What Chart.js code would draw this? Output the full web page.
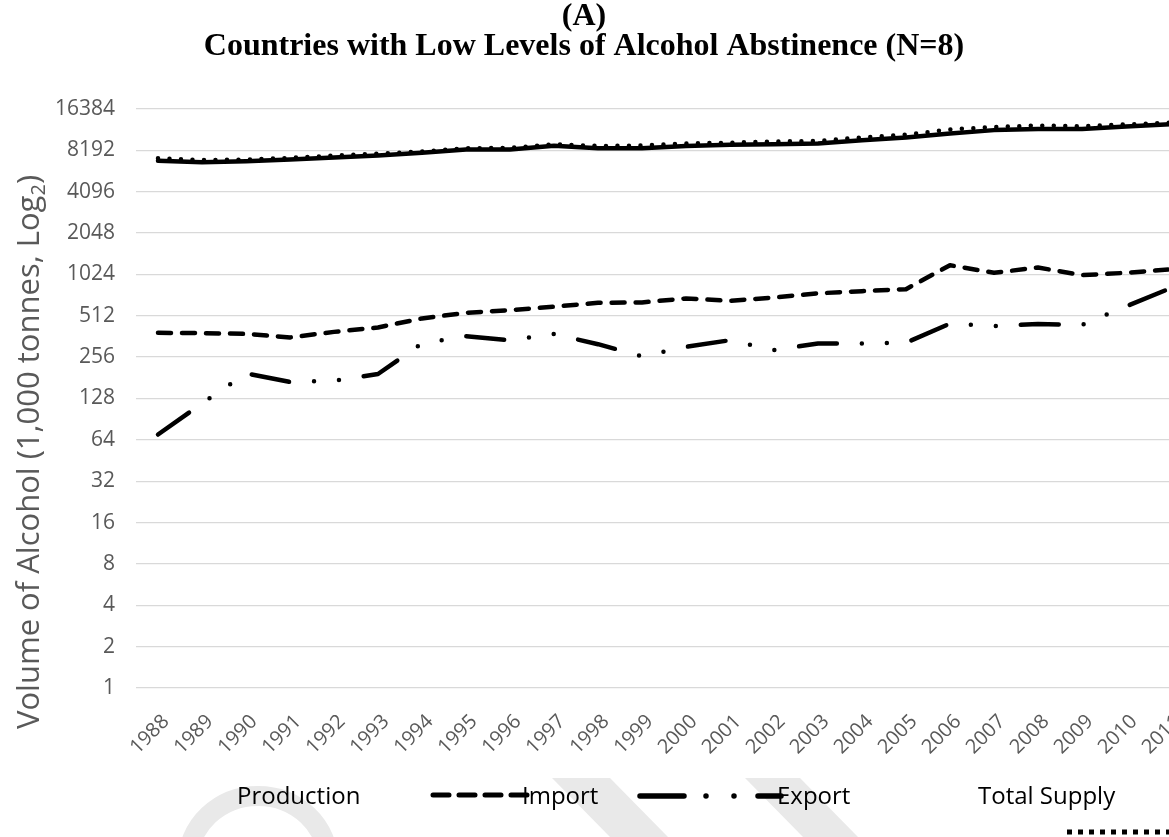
<!DOCTYPE html>
<html>
<head>
<meta charset="utf-8">
<title>Alcohol supply, low abstinence countries</title>
<script src="https://cdn.jsdelivr.net/npm/chart.js@4.4.1/dist/chart.umd.min.js"></script>
<style>
  html, body { margin: 0; padding: 0; background: #fff; overflow: hidden; }
  #wrap { position: relative; width: 1169px; height: 837px; overflow: hidden; }
  #supplyChart { position: absolute; left: 0; top: 0; }
</style>
</head>
<body>
<div id="wrap"><canvas id="supplyChart" width="1230" height="837"></canvas></div>
<script>
const years = ['1988', '1989', '1990', '1991', '1992', '1993', '1994', '1995', '1996', '1997', '1998', '1999',
               '2000', '2001', '2002', '2003', '2004', '2005', '2006', '2007', '2008', '2009', '2010', '2011'];

const yTickValues = [1, 2, 4, 8, 16, 32, 64, 128, 256, 512, 1024, 2048, 4096, 8192, 16384];

// volumes in 1,000 tonnes of pure alcohol
const production = [6870, 6700, 6830, 7030, 7280, 7510, 7860, 8310, 8310, 8850, 8500, 8500,
                    8800, 8990, 9080, 9180, 9720, 10170, 10860, 11500, 11700, 11700, 12200, 12700];
const imports = [385, 383, 378, 356, 391, 421, 490, 538, 563, 596, 636, 640,
                 685, 658, 696, 746, 774, 800, 1195, 1052, 1150, 1012, 1052, 1113];
const exports = [70, 118, 195, 169, 172, 193, 322, 364, 340, 377, 318, 260,
                 304, 340, 288, 322, 322, 326, 449, 431, 446, 440, 600, 810];
const totalSupply = [7185, 6965, 7010, 7215, 7500, 7740, 8030, 8480, 8530, 9070, 8820, 8880,
                     9180, 9310, 9490, 9600, 10170, 10640, 11610, 12120, 12400, 12270, 12650, 13000];

const GREY = '#595959';
const SANS = '"Open Sans", "DejaVu Sans", sans-serif';

const lineBase = {
  borderColor: '#000',
  backgroundColor: '#000',
  borderWidth: 4.5,
  pointRadius: 0,
  pointHoverRadius: 0,
  tension: 0,
  fill: false,
  borderJoinStyle: 'round',
  borderCapStyle: 'round'
};

// faint background stamp along the bottom edge
const stamp = {
  id: 'stamp',
  beforeDraw(chart) {
    const ctx = chart.ctx;
    ctx.save();
    ctx.fillStyle = '#e9e9e9';
    ctx.strokeStyle = '#e9e9e9';
    ctx.lineWidth = 20;
    ctx.beginPath();
    ctx.ellipse(258, 862, 70, 66, 0, Math.PI, 2 * Math.PI);
    ctx.stroke();
    const band = (pts) => {
      ctx.beginPath();
      ctx.moveTo(pts[0], pts[1]);
      for (let i = 2; i < pts.length; i += 2) ctx.lineTo(pts[i], pts[i + 1]);
      ctx.closePath();
      ctx.fill();
    };
    band([552, 778, 610, 778, 668, 837, 610, 837]);
    band([745, 778, 800, 778, 858, 837, 803, 837]);
    ctx.restore();
  }
};

// title, y axis title and the hand placed legend
const chartText = {
  id: 'chartText',
  afterDraw(chart) {
    const ctx = chart.ctx;
    ctx.save();

    ctx.fillStyle = '#000';
    ctx.textAlign = 'center';
    ctx.textBaseline = 'middle';
    ctx.font = 'bold 32px "Liberation Serif", serif';
    ctx.fillText('(A)', 584, 17);
    ctx.fillText('Countries with Low Levels of Alcohol Abstinence (N=8)', 584, 47);

    // rotated axis title with a subscript 2
    ctx.save();
    ctx.translate(30, 452);
    ctx.rotate(-Math.PI / 2);
    ctx.fillStyle = GREY;
    ctx.textAlign = 'left';
    const main = 'Volume of Alcohol (1,000 tonnes, Log';
    ctx.font = '31px ' + SANS;
    const w1 = ctx.measureText(main).width;
    const w3 = ctx.measureText(')').width;
    ctx.font = '20px ' + SANS;
    const w2 = ctx.measureText('2').width;
    let x = -(w1 + w2 + w3) / 2;
    ctx.font = '31px ' + SANS;
    ctx.fillText(main, x, 0);
    x += w1;
    ctx.font = '20px ' + SANS;
    ctx.fillText('2', x, 9);
    x += w2;
    ctx.font = '31px ' + SANS;
    ctx.fillText(')', x, 0);
    ctx.restore();

    // legend samples
    const sets = chart.data.datasets;
    const sample = (ds, x1, x2, y, cap, dash, width) => {
      ctx.save();
      ctx.strokeStyle = ds.borderColor;
      ctx.lineWidth = width || ds.borderWidth;
      ctx.lineCap = cap;
      ctx.setLineDash(dash || ds.borderDash || []);
      ctx.beginPath();
      ctx.moveTo(x1, y);
      ctx.lineTo(x2, y);
      ctx.stroke();
      ctx.restore();
    };
    sample(sets[1], 433, 532, 795, 'round', [16, 10], 5);
    sample(sets[2], 640, 781, 796, 'round', [44, 22, 0, 28, 0, 24, 40], 5.5);
    sample(sets[3], 1067, 1175, 832, 'butt', [5, 6], 5);

    ctx.fillStyle = '#000';
    ctx.textAlign = 'left';
    ctx.textBaseline = 'middle';
    ctx.font = '24px ' + SANS;
    ctx.fillText(sets[0].label, 237, 797);
    ctx.fillText(sets[1].label, 522, 797);
    ctx.fillText(sets[2].label, 777, 797);
    ctx.fillText(sets[3].label, 978, 797);

    ctx.restore();
  }
};

new Chart(document.getElementById('supplyChart'), {
  type: 'line',
  data: {
    labels: years,
    datasets: [
      { ...lineBase, label: 'Production', data: production },
      { ...lineBase, label: 'Import', data: imports, borderDash: [13, 11] },
      { ...lineBase, label: 'Export', data: exports, borderDash: [38, 25, 0, 25, 0, 25] },
      { ...lineBase, label: 'Total Supply', data: totalSupply, borderDash: [0, 11.5] }
    ]
  },
  options: {
    responsive: false,
    animation: false,
    events: [],
    layout: { padding: { top: 109, right: 38, bottom: 0, left: 0 } },
    plugins: {
      legend: { display: false },
      title: { display: false },
      tooltip: { enabled: false }
    },
    scales: {
      x: {
        offset: true,
        grid: { display: false, drawTicks: false },
        border: { display: false },
        ticks: {
          color: GREY,
          font: { family: SANS, size: 20 },
          minRotation: 45,
          maxRotation: 45,
          autoSkip: false,
          padding: 22,
          labelOffset: 8
        },
        afterFit(scale) { scale.height = 149; }
      },
      y: {
        type: 'logarithmic',
        min: 1,
        max: 16384,
        grid: { color: '#d9d9d9', lineWidth: 1.3, drawTicks: false },
        border: { display: false },
        ticks: {
          color: GREY,
          font: { family: SANS, size: 21 },
          padding: 21,
          callback: (v) => String(v)
        },
        afterBuildTicks(scale) {
          scale.ticks = yTickValues.map((v) => ({ value: v }));
        },
        afterFit(scale) { scale.width = 136; }
      }
    }
  },
  plugins: [stamp, chartText]
});
</script>
</body>
</html>
